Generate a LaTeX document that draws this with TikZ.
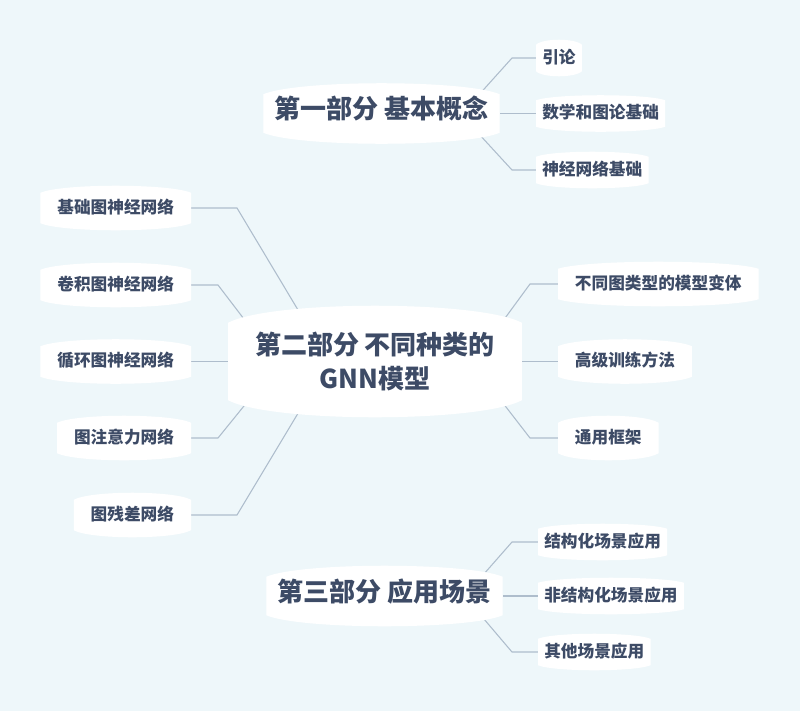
\documentclass[tikz,border=0pt]{standalone}
\usepackage{fontspec}
\newfontfamily\cjk{Noto Sans CJK SC}
\usepackage{xcolor}
\usepackage{tikz}
\usetikzlibrary{calc, positioning}
\definecolor{bgblue}{HTML}{EEF7FA}
\definecolor{inkblue}{HTML}{3D4B66}
\definecolor{linegray}{HTML}{AEBDCC}
\pgfdeclarelayer{back}
\pgfdeclarelayer{mid}
\pgfsetlayers{back,mid,main}

% 白色气泡: 上下两边向外鼓
\newcommand{\bubble}[2]{%
  \fill[white] (#1.south west) -- (#1.north west)
    .. controls ($(#1.north west)!0.15!(#1.north east)+(0pt,#2)$) and ($(#1.north west)!0.85!(#1.north east)+(0pt,#2)$) .. (#1.north east)
    -- (#1.south east)
    .. controls ($(#1.south west)!0.85!(#1.south east)-(0pt,#2)$) and ($(#1.south west)!0.15!(#1.south east)-(0pt,#2)$) .. (#1.south west) -- cycle;}

\tikzset{
  part/.style={text=inkblue, font=\cjk\bfseries\fontsize{19.5pt}{25.5pt}\selectfont,
    inner ysep=0pt, inner xsep=8.25pt, text height=0.88em, text depth=0.12em, minimum height=28.5pt},
  leaf/.style={text=inkblue, font=\cjk\bfseries\fontsize{12.5pt}{15pt}\selectfont,
    inner ysep=0pt, inner xsep=12.5pt, text height=0.88em, text depth=0.12em, minimum height=22.5pt},
  twig/.style={leaf, inner xsep=4.5pt, minimum height=19.5pt},
  link/.style={draw=linegray, line width=0.8pt}
}

\begin{document}
\begin{tikzpicture}[x=0.75pt, y=-0.75pt]
    \useasboundingbox (0,0) rectangle (800,711);

    % 三个部分
    \node[part] (n1) at (381.5,113.5) {第一部分 基本概念};
    \node[part, align=center, inner xsep=20pt, minimum height=57.75pt, text height=, text depth=] (c) at (375,361.5) {第二部分 不同种类的\\GNN模型};
    \node[part] (n3) at (384.5,596) {第三部分 应用场景};

    % 第一部分
    \node[twig, anchor=west] (a1) at (536,58) {引论};
    \node[twig, anchor=west] (a2) at (536,113.5) {数学和图论基础};
    \node[twig, anchor=west] (a3) at (536,170) {神经网络基础};

    % 第二部分 左
    \node[leaf, anchor=east] (b1) at (191,208) {基础图神经网络};
    \node[leaf, anchor=east] (b2) at (191,285) {卷积图神经网络};
    \node[leaf, anchor=east] (b3) at (191,361.5) {循环图神经网络};
    \node[leaf, anchor=east] (b4) at (191,438) {图注意力网络};
    \node[leaf, anchor=east] (b5) at (191,515) {图残差网络};

    % 第二部分 右
    \node[leaf, anchor=west] (r1) at (558,284) {不同图类型的模型变体};
    \node[leaf, anchor=west] (r2) at (558,361.5) {高级训练方法};
    \node[leaf, anchor=west] (r3) at (558,438) {通用框架};

    % 第三部分
    \node[twig, anchor=west] (d1) at (538,542) {结构化场景应用};
    \node[twig, anchor=west] (d2) at (538,596) {非结构化场景应用};
    \node[twig, anchor=west] (d3) at (538,652) {其他场景应用};

    % 底色和连线
    \begin{pgfonlayer}{back}
    \fill[bgblue] (0,0) rectangle (800,711);
    \draw[link] (a1.west) -- ++(-24,0) -- ($(n1.east)+(-30,-8.5)$);
    \draw[link] (a2.west) -- (n1.east);
    \draw[link] (a3.west) -- ++(-24,0) -- ($(n1.east)+(-30,10.5)$);
    \draw[link] (b1.east) -- ++(46,0) -- ($(c)+(-59,-21.5)$);
    \draw[link] (b2.east) -- ++(27,0) -- ($(c)+(-115,-21.5)$);
    \draw[link] (b3.east) -- (c.west);
    \draw[link] (b4.east) -- ++(27,0) -- ($(c)+(-114,23.5)$);
    \draw[link] (b5.east) -- ++(46,0) -- ($(c)+(-60,23.5)$);
    \draw[link] (r1.west) -- ++(-28,0) -- ($(c)+(114,-21.5)$);
    \draw[link] (r2.west) -- (c.east);
    \draw[link] (r3.west) -- ++(-28,0) -- ($(c)+(114,23.5)$);
    \draw[link] (d1.west) -- ++(-26,0) -- ($(n3.east)+(-28.5,-11)$);
    \draw[link] (d2.west) -- (n3.east);
    \draw[link] (d3.west) -- ++(-26,0) -- ($(n3.east)+(-29,11)$);
    \end{pgfonlayer}

    % 气泡
    \begin{pgfonlayer}{mid}
    \bubble{n1}{11pt} \bubble{c}{17pt} \bubble{n3}{11pt}
    \bubble{a1}{5pt} \bubble{a2}{5pt} \bubble{a3}{5pt}
    \bubble{b1}{7pt} \bubble{b2}{7pt} \bubble{b3}{7pt} \bubble{b4}{7pt} \bubble{b5}{7pt}
    \bubble{r1}{7pt} \bubble{r2}{7pt} \bubble{r3}{7pt}
    \bubble{d1}{5pt} \bubble{d2}{5pt} \bubble{d3}{5pt}
    \end{pgfonlayer}
\end{tikzpicture}
\end{document}
